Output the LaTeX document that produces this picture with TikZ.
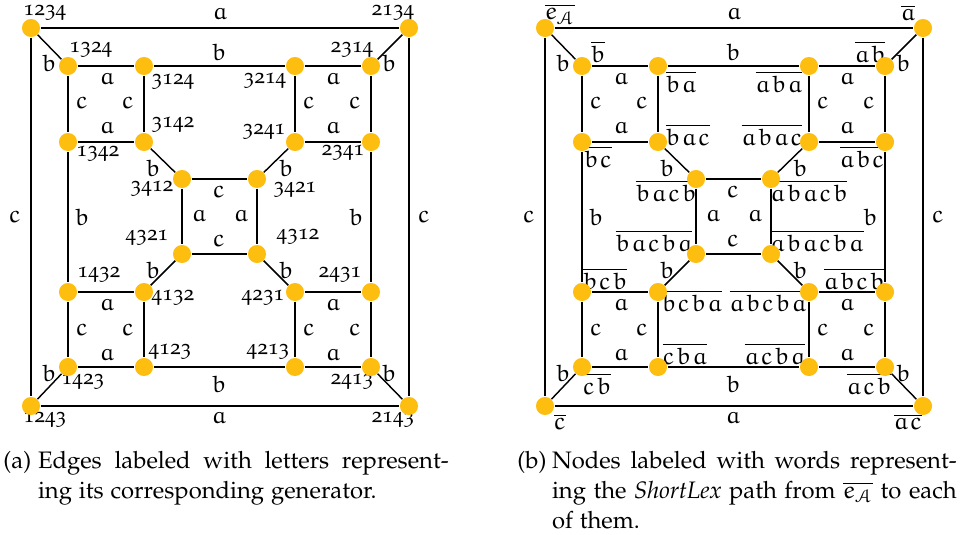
\documentclass[tikz,border=0pt]{standalone}
\usepackage[T1]{fontenc}
\usepackage[osf]{mathpazo}
\usepackage[mathcal]{euscript}
\DeclareMathAlphabet{\eu}{U}{eur}{m}{n}
\linespread{1.05}
\definecolor{dotyellow}{RGB}{254,190,16}
% letters of a word set apart by a thin math kern
\def\spw#1#2\spw{#1\ifx\spw#2\spw\else\mkern1.5mu\spw#2\spw\fi}
\begin{document}
\begin{tikzpicture}[x=0.42pt,y=-0.42pt,
  vtx/.style={circle,fill=dotyellow,inner sep=0pt,minimum size=7.6pt},
  edge/.style={line width=0.6pt,black},
  elab/.style={inner sep=0pt},
  vlab/.style={inner sep=0pt,font=\small},
  wlab/.style={inner sep=0pt},
  capt/.style={inner sep=0pt,anchor=base west,align=left}]
\useasboundingbox (0,0) rectangle (962,535);

% node labels of the permutation graph
\foreach \pos/\txt in {
  (45,13)/1234, (91,50)/1324, (173,82)/3124, (173,125)/3142, (98,154)/1342, (152,189)/3412,
  (393,13)/2134, (352,50)/2314, (265,81)/3214, (264,132)/3241, (343,153)/2341, (295,190)/3421,
  (147,238)/4321, (99,275)/1432, (173,298)/4132, (170,352)/4123, (83,382)/1423, (45,420)/1243,
  (298,237)/4312, (340,275)/2431, (263,298)/4231, (268,352)/4213, (352,382)/2413, (393,420)/2143}
  \node[vlab] at \pos {\txt};

% ShortLex words of the Cayley graph
\begin{scope}[shift={(514,0)}]
\node[wlab] at (46,14) {$\overline{\eu{e}_{\mathcal{A}}}$};
\foreach \pos/\txt in {
  (84,52)/b, (167,82)/ba, (174,135)/bac, (84,157)/bc, (152,191)/bacb,
  (394,13)/a, (356,52)/ab, (265,82)/aba, (258,135)/abac, (348,157)/abc, (295,191)/abacb,
  (140,241)/bacba, (91,279)/bcb, (178,301)/bcba, (171,354)/cba, (83,384)/cb, (46,422)/c,
  (303,241)/abacba, (340,279)/abcb, (254,301)/abcba, (261,354)/acba, (355,384)/acb, (394,422)/ac}
  \node[wlab] at \pos {$\overline{\eu{\expandafter\spw\txt\spw}}$};
\end{scope}

\foreach \P/\dx in {L/0,R/514}{
\begin{scope}[shift={(\dx,0)}]
  % vertices
  \foreach \x/\y/\n in {
    31/28/1234, 409/28/2134, 31/406/1243, 409/406/2143,
    68/66/1324, 144/66/3124, 295/66/3214, 371/66/2314,
    68/142/1342, 144/142/3142, 295/142/3241, 371/142/2341,
    182/179/3412, 257/179/3421, 182/254/4321, 257/254/4312,
    68/292/1432, 144/292/4132, 295/292/4231, 371/292/2431,
    68/367/1423, 144/367/4123, 295/367/4213, 371/367/2413}
    \node[vtx] (\P\n) at (\x,\y) {};
  % edges
  \foreach \u/\v in {
    1234/2134, 1234/1243, 2134/2143, 1243/2143,
    1234/1324, 2134/2314, 1243/1423, 2143/2413,
    1324/3124, 3124/3214, 3214/2314,
    1324/1342, 3124/3142, 1342/3142,
    3214/3241, 2314/2341, 3241/2341,
    1342/1432, 2341/2431,
    1432/4132, 1432/1423, 4132/4123, 1423/4123, 4123/4213,
    4231/2431, 4231/4213, 2431/2413, 4213/2413,
    3142/3412, 3241/3421, 4132/4321, 4231/4312,
    3412/3421, 3412/4321, 3421/4312, 4321/4312}
    \draw[edge] (\P\u) -- (\P\v);
  % generator letters on the edges
  \foreach \pos/\g in {
    (220,14)/a, (219,52)/b, (15,217)/c, (424,217)/c, (82,217)/b, (356,217)/b, (219,384)/b, (219,418)/a,
    (49,63)/b, (389,63)/b, (49,373)/b, (389,373)/b,
    (107,79)/a, (82,103)/c, (128,103)/c, (107,128)/a,
    (333,79)/a, (309,103)/c, (355,103)/c, (333,128)/a,
    (107,305)/a, (82,330)/c, (128,330)/c, (107,355)/a,
    (333,305)/a, (309,330)/c, (355,330)/c, (333,355)/a,
    (153,168)/b, (286,168)/b, (153,270)/b, (286,270)/b,
    (219,192)/c, (199,216)/a, (241,216)/a, (219,241)/c}
    \node[elab] at \pos {$\eu{\g}$};
\end{scope}
}

% captions
\node[capt] (capa) at (3,468) {\makebox[14.5pt][l]{(a)}\parbox[t]{172.5pt}{\setlength{\baselineskip}{12.6pt}Edges labeled with letters represent-\linebreak ing its corresponding generator.}};
\node[capt] (capb) at (517,468) {\makebox[14.5pt][l]{(b)}\parbox[t]{170pt}{\setlength{\baselineskip}{12.6pt}Nodes labeled with words represent-\linebreak ing the \emph{ShortLex} path from $\overline{\eu{e}_{\mathcal{A}}}$ to each\linebreak of them.}};
\end{tikzpicture}
\end{document}
